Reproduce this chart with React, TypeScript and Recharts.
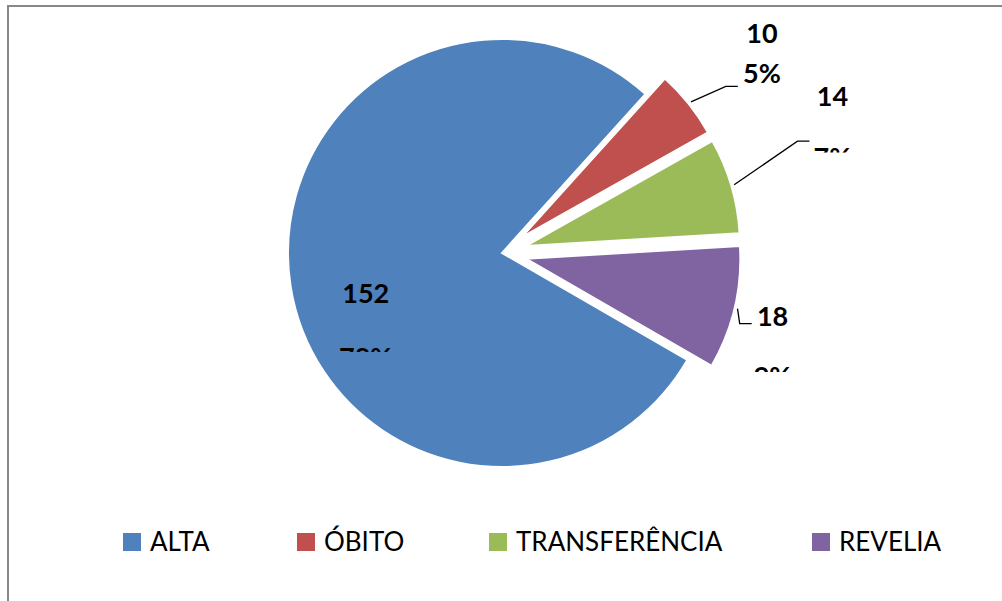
import React from 'react';
import { PieChart, Pie, Cell, Legend } from 'recharts';

// dados
const categories = ['ALTA', 'ÓBITO', 'TRANSFERÊNCIA', 'REVELIA'];
const counts = [152, 10, 14, 18];
const colors = ['#4F81BD', '#C0504D', '#9BBB59', '#8064A2'];

const data = categories.map((name, i) => ({ name, value: counts[i] }));
const total = counts.reduce((a, b) => a + b, 0);

// layout
const CX = 502;
const CY = 253;
const R = 214;
const START_ANGLE = -30;
const explode = [0, 25, 25, 25];
const labelR = [142, 315, 341, 253];
const labelDA = [7.4, 1.6, 9.6, 0];
const lineGap = [64, 40, 61, 60];
const clipPct = [true, false, true, true];
const bendR = [0, 254, 291, 223];
const bendDA = [0, -2.2, 4.7, -3.6];
const legendX = [123, 297, 489, 812];

const CAP = 19;
const RAD = Math.PI / 180;
const polar = (cx: number, cy: number, r: number, deg: number) => ({
  x: cx + r * Math.cos(deg * RAD),
  y: cy - r * Math.sin(deg * RAD),
});

const midAngles = counts.map((v, i) => {
  const before = counts.slice(0, i).reduce((a, b) => a + b, 0);
  return START_ANGLE - (360 * (before + v / 2)) / total;
});

const makeLabel = (k: number) => (props: any) => {
  const idx = props.index ?? categories.indexOf(props.name);
  if (idx !== k) return null;
  const cx = props.cx;
  const cy = props.cy;
  const mid = props.midAngle ?? midAngles[k];
  const c = polar(cx, cy, labelR[k], mid + labelDA[k]);
  const y1 = c.y + CAP / 2;
  const y2 = y1 + lineGap[k];
  const pct = `${Math.round((props.percent ?? counts[k] / total) * 100)}%`;
  const clipId = `pct-clip-${k}`;
  const txt = { fontFamily: 'Lato, sans-serif', fontWeight: 700, fontSize: 27, fill: '#000' };

  let line = null;
  if (bendR[k] > 0) {
    const s = polar(cx, cy, props.outerRadius + 3, mid);
    const b = polar(cx, cy, bendR[k], mid + bendDA[k]);
    line = (
      <polyline
        points={`${s.x},${s.y} ${b.x},${b.y} ${b.x + 12},${b.y}`}
        fill="none"
        stroke="#000"
        strokeWidth={1.3}
      />
    );
  }

  return (
    <g>
      {line}
      {clipPct[k] && (
        <defs>
          <clipPath id={clipId}>
            <rect x={c.x - 70} y={y2 - CAP - 3} width={140} height={7.5} />
          </clipPath>
        </defs>
      )}
      <text x={c.x} y={y1} textAnchor="middle" {...txt}>{props.value}</text>
      <text
        x={c.x}
        y={y2}
        textAnchor="middle"
        clipPath={clipPct[k] ? `url(#${clipId})` : undefined}
        {...txt}
      >
        {pct}
      </text>
    </g>
  );
};

const renderLegend = () => (
  <svg width={1002} height={50} style={{ display: 'block' }}>
    {categories.map((name, i) => (
      <g key={name}>
        <rect x={legendX[i]} y={13} width={18} height={18} fill={colors[i]} />
        <text
          x={legendX[i] + 27}
          y={31}
          fontFamily="Lato, sans-serif"
          fontSize={26}
          fill="#000"
        >
          {name}
        </text>
      </g>
    ))}
  </svg>
);

export default function App() {
  return (
    <div
      style={{
        position: 'absolute',
        left: 0,
        top: 0,
        width: 1002,
        height: 601,
        overflow: 'hidden',
        background: '#fff',
      }}
    >
      <div
        style={{
          position: 'absolute',
          left: 7,
          top: 5,
          width: 1100,
          height: 700,
          border: '2px solid #888',
        }}
      />
      <div style={{ position: 'absolute', left: 0, top: 0 }}>
        <PieChart width={1002} height={601} margin={{ top: 0, right: 0, bottom: 0, left: 0 }}>
          {categories.map((_, k) => {
            const off = polar(0, 0, explode[k], midAngles[k]);
            return (
              <Pie
                key={k}
                data={data}
                dataKey="value"
                nameKey="name"
                cx={CX + off.x}
                cy={CY + off.y}
                outerRadius={R}
                startAngle={START_ANGLE}
                endAngle={START_ANGLE - 360}
                label={makeLabel(k)}
                labelLine={false}
                isAnimationActive={false}
              >
                {data.map((d, i) => (
                  <Cell
                    key={d.name}
                    fill={i === k ? colors[i] : 'none'}
                    stroke={i === k ? '#fff' : 'none'}
                    strokeWidth={2}
                  />
                ))}
              </Pie>
            );
          })}
          <Legend
            verticalAlign="bottom"
            content={renderLegend}
            wrapperStyle={{ left: 0, top: 520, width: 1002 }}
          />
        </PieChart>
      </div>
    </div>
  );
}
